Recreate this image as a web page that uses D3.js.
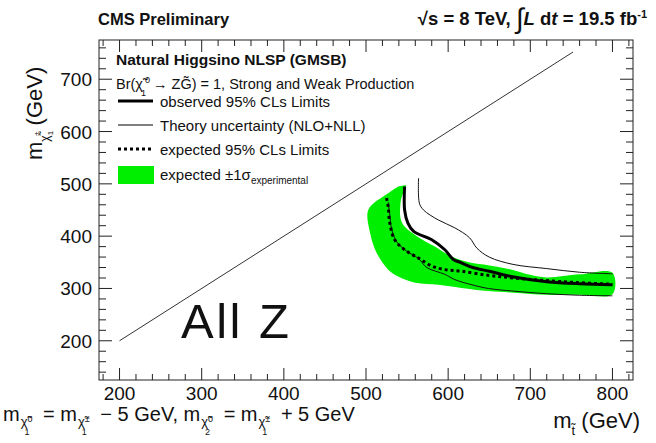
<!DOCTYPE html>
<html>
<head>
<meta charset="utf-8">
<script src="https://cdn.jsdelivr.net/npm/d3@7"></script>
<style>
  html, body { margin: 0; padding: 0; background: #fff; }
  svg { display: block; font-family: "Liberation Sans", Arial, Helvetica, sans-serif; }
</style>
</head>
<body>
<svg id="chart" width="656" height="443"></svg>
<script>
// Exclusion limits in the (stop mass, chargino mass) plane, GeV
const xTicks = [200, 300, 400, 500, 600, 700, 800];
const yTicks = [200, 300, 400, 500, 600, 700];

const diagonal = [[200, 200], [752, 752]];

const observed = [[547, 495], [547, 450], [551, 425], [558, 409], [580, 393], [596, 374],
  [606, 356], [616, 349], [630, 340], [650, 333], [680, 322], [720, 313], [760, 309], [800, 307]];

const theoryUpper = [[564, 511], [565, 463], [570, 450], [588, 431], [608, 416], [626, 397],
  [635, 377], [650, 360], [679, 346], [720, 338], [760, 331], [800, 328]];

const theoryLower = [[527, 465], [529, 440], [531, 415], [537, 390], [549, 372], [564, 357],
  [574, 340], [596, 327], [608, 317], [629, 307], [649, 300], [679, 295], [720, 290], [760, 287], [800, 286]];

const expected = [[525, 473], [527, 457], [529, 425], [535, 393], [547, 374], [564, 358],
  [580, 343], [596, 336], [616, 333], [649, 325], [680, 320], [720, 315], [760, 311], [800, 308]];

// ±1σ band: outer (left/lower) edge and inner (right/upper) edge, both from the top down
const bandOuter = [[539, 495], [527, 482], [503, 451], [505, 406], [513, 368], [527, 336],
  [539, 323], [560, 311], [588, 307], [616, 301], [649, 295], [680, 292], [720, 288], [760, 288], [800, 289]];
const bandInner = [[549, 498], [542, 463], [544, 425], [562, 400], [584, 380], [604, 361],
  [625, 350], [650, 344], [680, 335], [700, 326], [720, 321], [760, 327], [800, 330]];

const svg = d3.select("#chart");
const frameL = 99, frameR = 633, frameT = 40, frameB = 380;

const x = d3.scaleLinear().domain([175, 825]).range([frameL, frameR]);
const y = d3.scaleLinear().domain([125, 775]).range([frameB, frameT]);

const lineFree = d3.line().x(d => x(d[0])).y(d => y(d[1])).curve(d3.curveCatmullRom.alpha(0.5));

const plot = svg.append("g");

// green ±1σ band
plot.append("path")
  .attr("d", lineFree(bandOuter.concat(bandInner.slice().reverse())) + "Z")
  .attr("fill", "#00ee00").attr("stroke", "none");

// kinematic diagonal
plot.append("path").attr("d", d3.line().x(d => x(d[0])).y(d => y(d[1]))(diagonal))
  .attr("fill", "none").attr("stroke", "#333").attr("stroke-width", 1);

plot.append("path").attr("d", lineFree(theoryLower))
  .attr("fill", "none").attr("stroke", "#111").attr("stroke-width", 1);
plot.append("path").attr("d", lineFree(theoryUpper))
  .attr("fill", "none").attr("stroke", "#111").attr("stroke-width", 1);
plot.append("path").attr("d", lineFree(expected))
  .attr("fill", "none").attr("stroke", "#000").attr("stroke-width", 3)
  .attr("stroke-dasharray", "3,3");
plot.append("path").attr("d", lineFree(observed))
  .attr("fill", "none").attr("stroke", "#000").attr("stroke-width", 3);

// frame
svg.append("rect").attr("x", frameL).attr("y", frameT)
  .attr("width", frameR - frameL).attr("height", frameB - frameT)
  .attr("fill", "none").attr("stroke", "#222").attr("stroke-width", 1);

// inward ticks on all four sides
const minorX = d3.range(180, 825, 20);
const minorY = d3.range(140, 775, 20);
const tk = svg.append("g").attr("stroke", "#222").attr("stroke-width", 1);
minorX.forEach(v => {
  const len = v % 100 === 0 ? 12 : 6;
  tk.append("line").attr("x1", x(v)).attr("x2", x(v)).attr("y1", frameB).attr("y2", frameB - len);
  tk.append("line").attr("x1", x(v)).attr("x2", x(v)).attr("y1", frameT).attr("y2", frameT + len);
});
minorY.forEach(v => {
  const len = v % 100 === 0 ? 13 : 7;
  tk.append("line").attr("y1", y(v)).attr("y2", y(v)).attr("x1", frameL).attr("x2", frameL + len);
  tk.append("line").attr("y1", y(v)).attr("y2", y(v)).attr("x1", frameR).attr("x2", frameR - len);
});

// tick labels
svg.append("g").selectAll("text").data(xTicks).join("text")
  .attr("x", d => x(d)).attr("y", 400).attr("text-anchor", "middle")
  .attr("font-size", 19).attr("fill", "#111").text(d => d);
svg.append("g").selectAll("text").data(yTicks).join("text")
  .attr("x", 92).attr("y", d => y(d) + 7).attr("text-anchor", "end")
  .attr("font-size", 19).attr("fill", "#111").text(d => d);

// header
svg.append("text").attr("x", 98).attr("y", 25).attr("font-size", 16.5).attr("font-weight", "bold")
  .attr("fill", "#111").text("CMS Preliminary");
const hdr = svg.append("text").attr("x", 647).attr("y", 25).attr("text-anchor", "end")
  .attr("font-size", 18.5).attr("font-weight", "bold").attr("fill", "#111");
hdr.append("tspan").text("√s = 8 TeV, ");
hdr.append("tspan").attr("font-size", 28).attr("font-weight", "normal").attr("dy", 3).text("∫");
hdr.append("tspan").attr("font-style", "italic").attr("dy", -3).text("L");
hdr.append("tspan").text(" d");
hdr.append("tspan").attr("font-style", "italic").text("t");
hdr.append("tspan").text(" = 19.5 fb");
hdr.append("tspan").attr("dy", -7).attr("font-size", 11).text("-1");

// legend
const lg = svg.append("g").attr("fill", "#111");
lg.append("text").attr("x", 116).attr("y", 65).attr("font-size", 15.5).attr("font-weight", "bold")
  .text("Natural Higgsino NLSP (GMSB)");
const br = lg.append("text").attr("x", 116).attr("y", 89).attr("font-size", 14.5);
br.append("tspan").text("Br(χ̃");
br.append("tspan").attr("y", 83).attr("dx", 2).attr("font-size", 9).text("0");
br.append("tspan").attr("y", 96).attr("dx", -9).attr("font-size", 9).text("1");
br.append("tspan").attr("y", 89).attr("dx", 3).text(" → ZG̃) = 1, Strong and Weak Production");

const legendRows = [
  { label: "observed 95% CLs Limits", kind: "observed", yy: 101 },
  { label: "Theory uncertainty (NLO+NLL)", kind: "theory", yy: 125 },
  { label: "expected 95% CLs Limits", kind: "expected", yy: 149 },
  { label: "expected ±1σ", kind: "band", yy: 174 }
];
legendRows.forEach(r => {
  if (r.kind === "band") {
    lg.append("rect").attr("x", 118).attr("y", r.yy - 8).attr("width", 36).attr("height", 18)
      .attr("fill", "#00ee00");
  } else {
    lg.append("line").attr("x1", 118).attr("x2", 153).attr("y1", r.yy).attr("y2", r.yy)
      .attr("stroke", "#000")
      .attr("stroke-width", r.kind === "theory" ? 1 : 3)
      .attr("stroke-dasharray", r.kind === "expected" ? "3,3" : null);
  }
  const t = lg.append("text").attr("x", 160).attr("y", r.yy + 6).attr("font-size", 15).text(r.label);
  if (r.kind === "band") {
    t.append("tspan").attr("dy", 4).attr("font-size", 10).text("experimental");
  }
});

// overlay label
svg.append("text").attr("x", 181).attr("y", 338).attr("font-size", 49).attr("fill", "#111")
  .attr("letter-spacing", 2.5).text("All Z");

// axis titles
const yt = svg.append("text").attr("transform", "translate(42,160) rotate(-90)")
  .attr("font-size", 22).attr("fill", "#111");
yt.append("tspan").text("m");
yt.append("tspan").attr("y", 7).attr("font-size", 12).text("χ̃");
yt.append("tspan").attr("y", 11).attr("font-size", 8).text("1");
yt.append("tspan").attr("y", -3).attr("dx", -5).attr("font-size", 8).text("±");
yt.append("tspan").attr("y", 0).text(" (GeV)");

const xt = svg.append("text").attr("x", 640).attr("y", 428).attr("text-anchor", "end")
  .attr("font-size", 22).attr("fill", "#111");
xt.append("tspan").text("m");
xt.append("tspan").attr("dy", 7).attr("font-size", 13).text("t̃");
xt.append("tspan").attr("dy", -7).text(" (GeV)");

// mass-splitting note under the plot
const noteParts = [
  { main: "m", sub: "1", sup: "0" },
  { main: " = m", sub: "1", sup: "±" },
  { main: " − 5 GeV, m", sub: "2", sup: "0" },
  { main: " = m", sub: "1", sup: "±" },
  { main: " + 5 GeV" }
];
const noteY = 421;
const note = svg.append("text").attr("x", 3).attr("y", noteY).attr("font-size", 20).attr("fill", "#111");
noteParts.forEach((p, i) => {
  note.append("tspan").attr("y", noteY).attr("dx", i > 0 ? 8 : 0).attr("font-size", 20).text(p.main);
  if (p.sub) {
    note.append("tspan").attr("y", noteY + 5).attr("dx", 1).attr("font-size", 13).text("χ̃");
    note.append("tspan").attr("y", noteY + 1).attr("dx", 0).attr("font-size", 9).text(p.sup);
    note.append("tspan").attr("y", noteY + 14).attr("dx", -8).attr("font-size", 9).text(p.sub);
  }
});
</script>
</body>
</html>
